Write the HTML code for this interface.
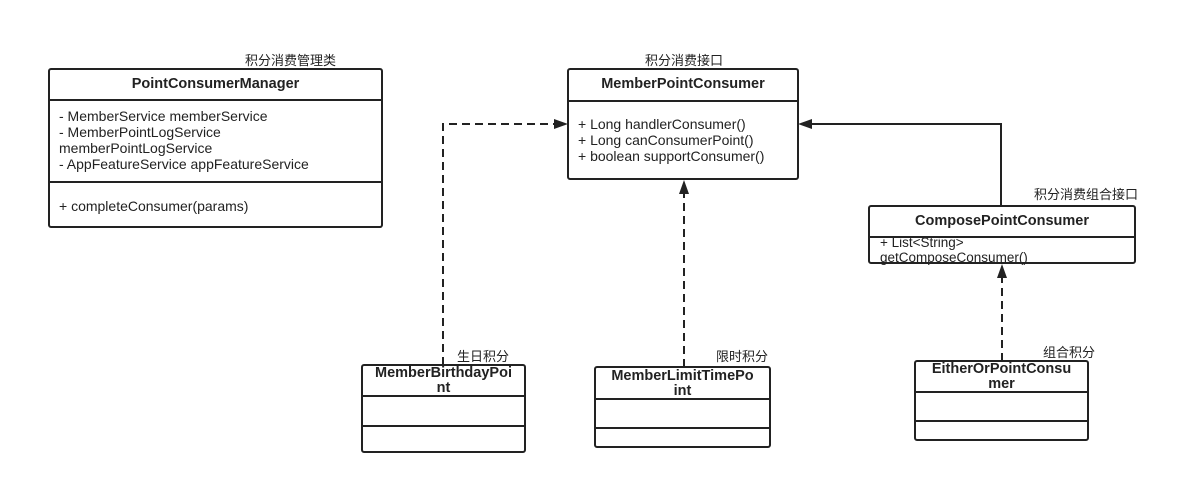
<!DOCTYPE html>
<html><head><meta charset="utf-8"><style>
body{margin:0;width:1185px;height:484px;background:#fff;position:relative;overflow:hidden;font-family:"Liberation Sans","Noto Sans CJK SC",sans-serif;color:#222}
.b{position:absolute;border:2px solid #222;border-radius:3px;box-sizing:border-box;background:#fff}
.t{position:absolute;font-size:13px;white-space:nowrap}
.h{font-weight:bold;text-align:center;font-size:14.5px;white-space:nowrap}
.l{position:absolute;left:0;right:0;border-top:2px solid #222}
.a{font-size:14px;line-height:16px;padding-left:9px;white-space:nowrap}
</style></head><body>
<svg width="1185" height="484" style="position:absolute;left:0;top:0">
<g stroke="#222" stroke-width="2" fill="none">
<polyline points="443,365 443,124 556,124" stroke-dasharray="8,5"/>
<line x1="684" y1="367" x2="684" y2="193" stroke-dasharray="8,5"/>
<polyline points="1001,206 1001,124 811,124"/>
<line x1="1002" y1="361" x2="1002" y2="277" stroke-dasharray="8,5"/>
</g>
<g fill="#222">
<polygon points="568,124 554,119 554,129"/>
<polygon points="684,180 679,194 689,194"/>
<polygon points="798,124 812,119 812,129"/>
<polygon points="1002,264 997,278 1007,278"/>
</g>
</svg>
<div class="t" style="left:245px;top:50px">积分消费管理类</div>
<div class="t" style="left:645px;top:50px">积分消费接口</div>
<div class="t" style="left:1034px;top:184px">积分消费组合接口</div>
<div class="t" style="left:457px;top:346px">生日积分</div>
<div class="t" style="left:716px;top:346px">限时积分</div>
<div class="t" style="left:1043px;top:342px">组合积分</div>

<div class="b" style="left:48px;top:68px;width:335px;height:160px">
<div class="h" style="margin-top:6px">PointConsumerManager</div>
<div class="l" style="top:29px"></div>
<div class="a" style="position:absolute;top:38px">- MemberService memberService<br>- MemberPointLogService<br>memberPointLogService<br>- AppFeatureService appFeatureService</div>
<div class="l" style="top:111px"></div>
<div class="a" style="position:absolute;top:128px">+ completeConsumer(params)</div>
</div>

<div class="b" style="left:567px;top:68px;width:232px;height:112px">
<div class="h" style="margin-top:6px">MemberPointConsumer</div>
<div class="l" style="top:30px"></div>
<div class="a" style="position:absolute;top:46px">+ Long handlerConsumer()<br>+ Long canConsumerPoint()<br>+ boolean supportConsumer()</div>
</div>

<div class="b" style="left:868px;top:205px;width:268px;height:59px">
<div class="h" style="margin-top:6px">ComposePointConsumer</div>
<div class="l" style="top:29px"></div>
<div style="position:absolute;top:28px;left:10px;font-size:13.5px;line-height:15px">+ List&lt;String&gt;<br>getComposeConsumer()</div>
</div>

<div class="b" style="left:361px;top:364px;width:165px;height:89px">
<div class="h" style="line-height:15px">MemberBirthdayPoi<br>nt</div>
<div class="l" style="top:29px"></div>
<div class="l" style="top:59px"></div>
</div>

<div class="b" style="left:594px;top:366px;width:177px;height:82px">
<div class="h" style="line-height:15px;margin-top:1px">MemberLimitTimePo<br>int</div>
<div class="l" style="top:30px"></div>
<div class="l" style="top:59px"></div>
</div>

<div class="b" style="left:914px;top:360px;width:175px;height:81px">
<div class="h" style="line-height:15px">EitherOrPointConsu<br>mer</div>
<div class="l" style="top:29px"></div>
<div class="l" style="top:58px"></div>
</div>
</body></html>
